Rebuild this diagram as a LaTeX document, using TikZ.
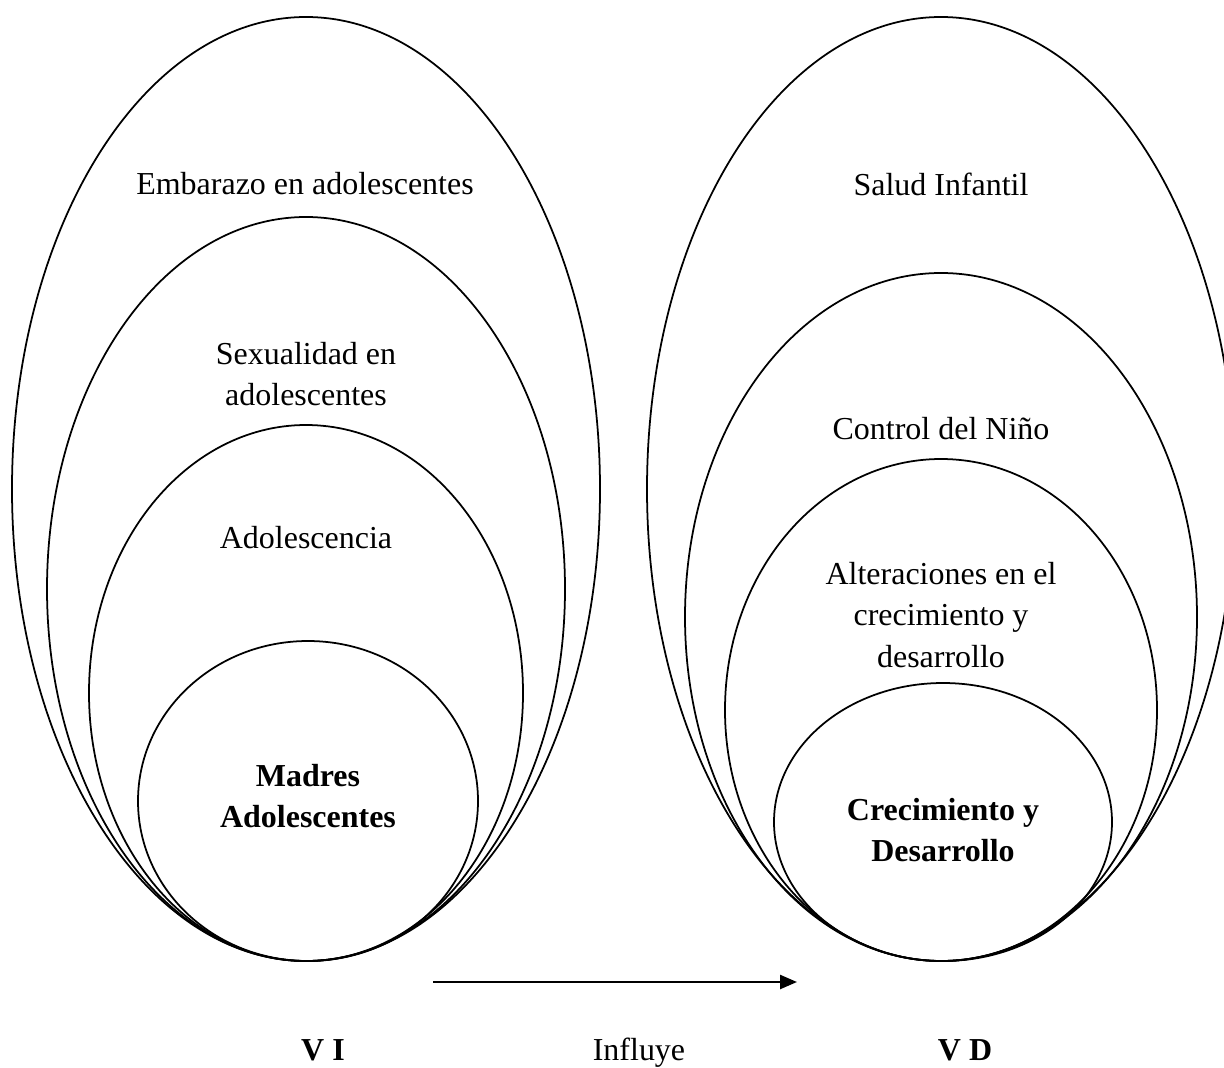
\documentclass[tikz,border=0pt]{standalone}
\usepackage{fontspec}
\setmainfont{Liberation Serif}
\usetikzlibrary{arrows.meta}
\tikzset{
  setline/.style={line width=1pt},
  settext/.style={font=\fontsize{18.2}{23.6}\selectfont, align=center,
                  inner sep=0pt},
  boldtext/.style={settext, font=\fontsize{18.2}{23.6}\selectfont\bfseries},
  influence/.style={line width=1.4pt, -{Triangle[length=0.34cm, width=0.28cm]}}
}

\begin{document}
\begin{tikzpicture}[x=0.02cm, y=-0.02cm]
  \useasboundingbox (0,0) rectangle (1224,1068);
  \clip (0,0) rectangle (1224,1068);
  %--- V I: nested sets ------------------------------------------------------
  \begin{scope}
    \draw[setline] (306,489) ellipse [x radius=294, y radius=472];
    \draw[setline] (306,589) ellipse [x radius=259, y radius=372];
    \draw[setline] (306,693) ellipse [x radius=217, y radius=268];
    \draw[setline] (308,801) ellipse [x radius=170, y radius=160];
    \node[settext] (embarazo) at (305,184) {Embarazo en adolescentes};
    \node[settext] (sexualidad) at (306,374) {Sexualidad en\\adolescentes};
    \node[settext] (adolescencia) at (306,538) {Adolescencia};
    \node[boldtext] (madres) at (308,796) {Madres\\Adolescentes};
  \end{scope}
  %--- V D: nested sets ------------------------------------------------------
  \begin{scope}
    \draw[setline] (941,489) ellipse [x radius=294, y radius=472];
    \draw[setline] (941,617) ellipse [x radius=256, y radius=344];
    \draw[setline] (941,710) ellipse [x radius=216, y radius=251];
    \draw[setline] (943,822) ellipse [x radius=169, y radius=139];
    \node[settext] (salud) at (941,184) {Salud Infantil};
    \node[settext] (control) at (941,429) {Control del Niño};
    \node[settext] (alteraciones) at (941,615)
      {Alteraciones en el\\crecimiento y\\desarrollo};
    \node[boldtext] (crecimiento) at (943,830) {Crecimiento y\\Desarrollo};
  \end{scope}
  %--- relation --------------------------------------------------------------
  \coordinate (arrowstart) at (433,982);
  \coordinate (arrowend) at (797,982);
  \draw[influence] (arrowstart) -- (arrowend);
  \node[boldtext] (vi) at (323,1050) {V I};
  \node[settext] (influye) at (639,1053) {Influye};
  \node[boldtext] (vd) at (965,1050) {V D};
\end{tikzpicture}
\end{document}
